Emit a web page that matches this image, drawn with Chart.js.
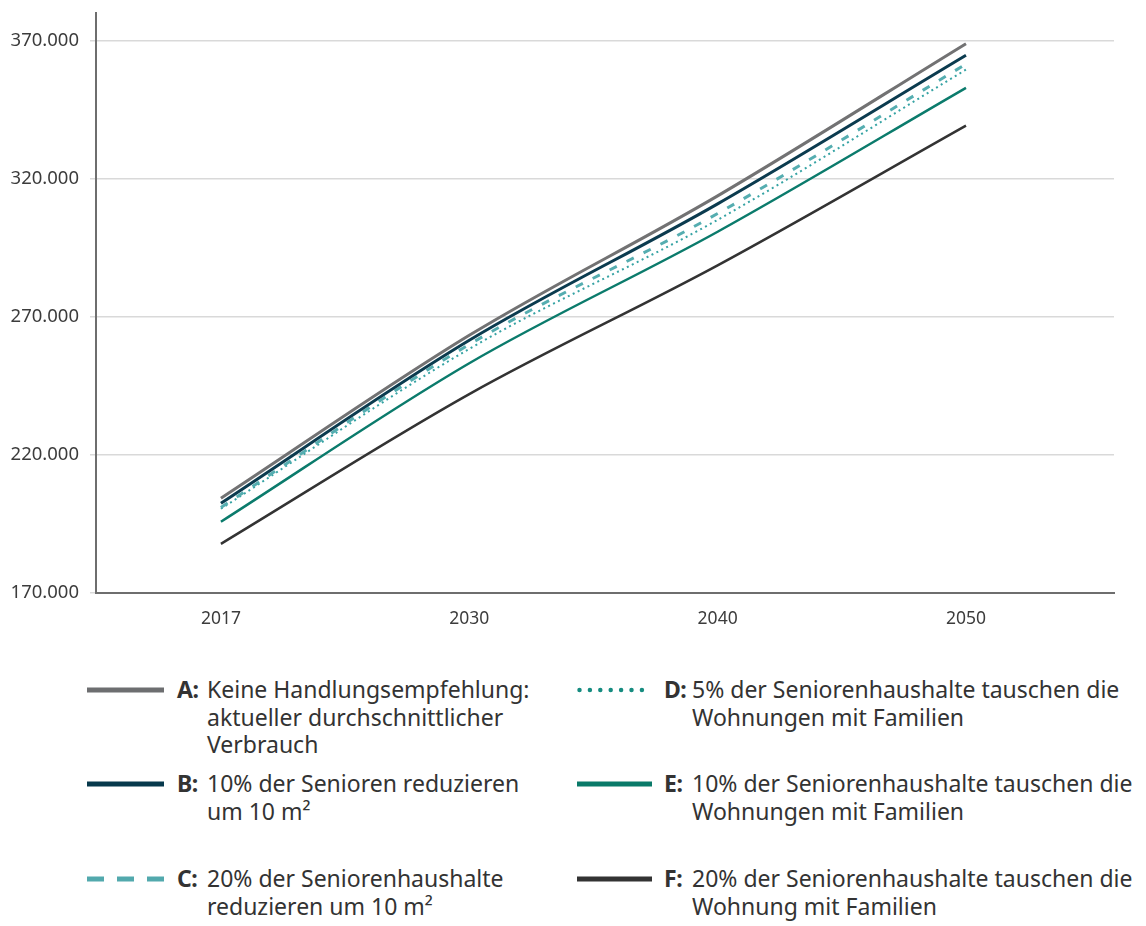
<!DOCTYPE html>
<html lang="de">
<head>
<meta charset="utf-8">
<title>Wohnflächenbedarf bis 2050</title>
<script src="https://cdn.jsdelivr.net/npm/chart.js@4.4.1/dist/chart.umd.min.js"></script>
<style>
  body { margin: 0; background: #fff; font-family: "Noto Sans", sans-serif; color: #333; }
  #wrap { position: relative; width: 1146px; height: 926px; }
  #chartBox { position: absolute; left: 0; top: 0; width: 1146px; height: 650px; }
  .sample { position: absolute; }
  .lab { position: absolute; font-size: 23px; line-height: 27.5px; font-weight: 700; white-space: nowrap; letter-spacing: -0.5px; }
  .txt { position: absolute; font-size: 23px; line-height: 27.5px; white-space: nowrap; }
</style>
</head>
<body>
<div id="wrap">
  <div id="chartBox"><canvas id="szenarien"></canvas></div>
  <div id="legend"></div>
</div>
<script>
// Daten
const years = ["2017", "2030", "2040", "2050"];
const yTicks = [170000, 220000, 270000, 320000, 370000];

const serieA = [204300, 263300, 313800, 368900];
const serieB = [202500, 261500, 310900, 364700];
const serieC = [201000, 260000, 307400, 361500];
const serieD = [200500, 258400, 305100, 359500];
const serieE = [195800, 253200, 300800, 352900];
const serieF = [187800, 242000, 288600, 339200];

const labelA = ["Keine Handlungsempfehlung:", "aktueller durchschnittlicher", "Verbrauch"];
const labelB = ["10% der Senioren reduzieren", "um 10 m²"];
const labelC = ["20% der Seniorenhaushalte", "reduzieren um 10 m²"];
const labelD = ["5% der Seniorenhaushalte tauschen die", "Wohnungen mit Familien"];
const labelE = ["10% der Seniorenhaushalte tauschen die", "Wohnungen mit Familien"];
const labelF = ["20% der Seniorenhaushalte tauschen die", "Wohnung mit Familien"];

// Darstellung
const series = [
    { key: "A", values: serieA, text: labelA, color: "#727273", width: 3, dash: [], legendColor: "#6d6e70", legendDash: "" },
    { key: "B", values: serieB, text: labelB, color: "#0b3b4f", width: 3, dash: [], legendColor: "#07394c", legendDash: "" },
    { key: "C", values: serieC, text: labelC, color: "#55adb0", width: 3, dash: [8, 11], legendColor: "#52a9ad", legendDash: "17 13" },
    { key: "D", values: serieD, text: labelD, color: "#36a3a4", width: 2, dash: [2, 3.5], legendColor: "#168c80", legendDash: "dot" },
    { key: "E", values: serieE, text: labelE, color: "#0b7b6c", width: 2.5, dash: [], legendColor: "#0a7a69", legendDash: "" },
    { key: "F", values: serieF, text: labelF, color: "#333333", width: 2.5, dash: [], legendColor: "#333333", legendDash: "" }
];

const formatDE = (v) => String(v).replace(/\B(?=(\d{3})+(?!\d))/g, ".");

const ctx = document.getElementById("szenarien").getContext("2d");
new Chart(ctx, {
    type: "line",
    data: {
        datasets: series.map(s => ({
            label: s.key,
            data: s.values.map((v, i) => ({ x: i, y: v })),
            borderColor: s.color,
            borderWidth: s.width,
            borderDash: s.dash,
            pointRadius: 0,
            fill: false,
            cubicInterpolationMode: "monotone"
        }))
    },
    options: {
        responsive: true,
        maintainAspectRatio: false,
        animation: false,
        layout: { padding: { top: 13, right: 32, left: 0, bottom: 0 } },
        plugins: { legend: { display: false }, tooltip: { enabled: false } },
        scales: {
            x: {
                type: "linear",
                min: -0.503,
                max: 3.596,
                afterBuildTicks: (s) => { s.ticks = years.map((y, i) => ({ value: i })); },
                afterFit: (s) => { s.height = 57; s.paddingLeft = 0; s.paddingRight = 0; },
                grid: { display: false, drawTicks: false },
                border: { display: true, color: "#6e6e6e", width: 2 },
                ticks: {
                    padding: 16,
                    color: "#3c3c3c",
                    font: { family: "Noto Sans", size: 17.5 },
                    callback: (v) => years[v] ?? ""
                }
            },
            y: {
                min: 170000,
                max: 380000,
                afterBuildTicks: (s) => { s.ticks = yTicks.map(v => ({ value: v })); },
                afterFit: (s) => { s.width = 96; s.paddingTop = 0; s.paddingBottom = 0; },
                grid: { color: "#d9d9d9", lineWidth: 1.5, tickLength: 6 },
                border: { display: true, color: "#6e6e6e", width: 2 },
                ticks: {
                    padding: 11,
                    color: "#3c3c3c",
                    font: { family: "Noto Sans", size: 18.5 },
                    callback: (v) => formatDE(v)
                }
            }
        }
    }
});

// Legende (HTML, zwei Spalten)
const cols = [
    { sample: 87, sampleW: 77, lab: 177, txt: 207 },
    { sample: 577, sampleW: 75, lab: 664, txt: 692 }
];
const rowsY = [690, 784, 879];
const legend = document.getElementById("legend");

series.forEach((s, idx) => {
    const c = cols[Math.floor(idx / 3)];
    const y = rowsY[idx % 3];
    const svg = document.createElementNS("http://www.w3.org/2000/svg", "svg");
    svg.setAttribute("class", "sample");
    svg.setAttribute("width", c.sampleW);
    svg.setAttribute("height", 10);
    svg.style.left = c.sample + "px";
    svg.style.top = (y - 5) + "px";
    const ln = document.createElementNS("http://www.w3.org/2000/svg", "line");
    ln.setAttribute("x1", s.legendDash === "dot" ? 2.5 : 0);
    ln.setAttribute("x2", c.sampleW);
    ln.setAttribute("y1", 5);
    ln.setAttribute("y2", 5);
    ln.setAttribute("stroke", s.legendColor);
    ln.setAttribute("stroke-width", s.legendDash === "dot" ? 4.5 : 5);
    if (s.legendDash === "dot") {
        ln.setAttribute("stroke-dasharray", "0 10.4");
        ln.setAttribute("stroke-linecap", "round");
    } else if (s.legendDash) {
        ln.setAttribute("stroke-dasharray", s.legendDash);
    }
    svg.appendChild(ln);
    legend.appendChild(svg);

    const lab = document.createElement("div");
    lab.className = "lab";
    lab.textContent = s.key + ":";
    lab.style.left = c.lab + "px";
    lab.style.top = (y - 14) + "px";
    legend.appendChild(lab);

    const txt = document.createElement("div");
    txt.className = "txt";
    txt.innerHTML = s.text.join("<br>");
    txt.style.left = c.txt + "px";
    txt.style.top = (y - 14) + "px";
    legend.appendChild(txt);
});
</script>
</body>
</html>
